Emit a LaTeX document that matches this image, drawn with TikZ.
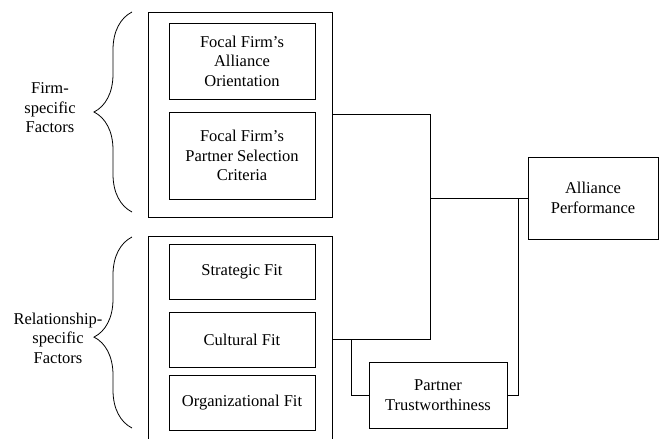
\documentclass[tikz,border=0pt]{standalone}
\usepackage{fontspec}
\setmainfont{Liberation Serif}
\usetikzlibrary{decorations.pathreplacing}

\begin{document}
\begin{tikzpicture}[x=1pt, y=-1pt, line width=0.8pt,
    every node/.style={font=\fontsize{16.5}{19.5}\selectfont, align=center, inner sep=0pt},
    box/.style={rectangle, draw, minimum width=146pt},
    group/.style={rectangle, draw, minimum width=184pt}]
      \useasboundingbox (0, 0) rectangle (659, 439);
      \clip (0, 0) rectangle (659, 439);

      % 枠
      \node[group, minimum height=205pt] (G1) at (240, 114.5) {};
      \node[group, minimum height=214pt] (G2) at (240, 343) {};

      % 箱
      \node[box, minimum height=76pt] (AO) at (242, 61) {Focal Firm's\\Alliance\\Orientation};
      \node[box, minimum height=87pt] (PS) at (242, 155.5) {Focal Firm's\\Partner Selection\\Criteria};
      \node[box, minimum height=55pt] (SF) at (242, 271.5) {Strategic Fit};
      \node[box, minimum height=55pt] (CF) at (242, 339.5) {Cultural Fit};
      \node[box, minimum height=55pt] (OF) at (242, 402.5) {Organizational Fit};
      \node[box, minimum width=138pt, minimum height=66pt] (PT) at (438, 395) {Partner\\Trustworthiness};
      \node[box, minimum width=130pt, minimum height=82pt] (AP) at (593, 198) {Alliance\\Performance};

      % 括弧
      \draw[decorate, decoration={brace, amplitude=38pt}] (132, 212) -- (132, 12);
      \draw[decorate, decoration={brace, amplitude=38pt, aspect=0.476}] (132, 428) -- (132, 237);

      % ラベル
      \node (FF) at (50, 108) {Firm-\\specific\\Factors};
      \node (RF) at (58, 338) {Relationship-\\specific\\Factors};

      % 線を引く
      \coordinate (J) at (430, 198);
      \coordinate (K) at (351, 339.5);
      \coordinate (L) at (518, 198);
      \draw (G1.east) -| (J);
      \draw (CF -| G2.east) -| (J);
      \draw (J) -- (AP.west);
      \draw (K) |- (PT.west);
      \draw (PT.east) -| (L);
    \end{tikzpicture}
\end{document}
